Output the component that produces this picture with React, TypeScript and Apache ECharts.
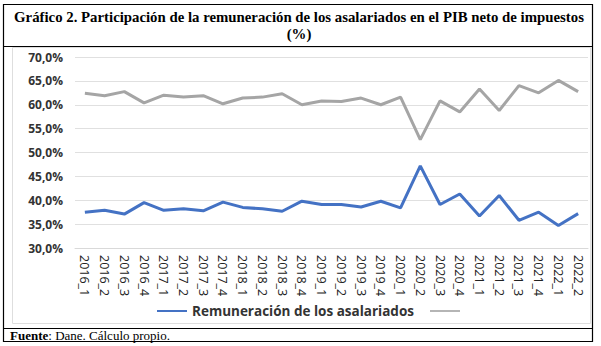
import React, { useEffect, useRef } from "react";
import * as echarts from "echarts";

const categories = [
  "2016_1", "2016_2", "2016_3", "2016_4",
  "2017_1", "2017_2", "2017_3", "2017_4",
  "2018_1", "2018_2", "2018_3", "2018_4",
  "2019_1", "2019_2", "2019_3", "2019_4",
  "2020_1", "2020_2", "2020_3", "2020_4",
  "2021_1", "2021_2", "2021_3", "2021_4",
  "2022_1", "2022_2",
];

const remuneracion = [
  37.5, 37.9, 37.1, 39.5, 37.9, 38.2, 37.8, 39.6, 38.5, 38.2, 37.7, 39.8,
  39.1, 39.1, 38.6, 39.8, 38.4, 47.2, 39.1, 41.3, 36.7, 41.0, 35.8, 37.5,
  34.7, 37.2,
];

const otros = [
  62.4, 61.9, 62.75, 60.4, 62.0, 61.6, 61.9, 60.2, 61.4, 61.6, 62.3, 60.0,
  60.8, 60.7, 61.4, 60.0, 61.6, 52.7, 60.8, 58.5, 63.3, 58.8, 64.0, 62.5,
  65.1, 62.75,
];

const seriesNames = ["Remuneración de los asalariados", " "];
const titleLine1 =
  "Gráfico 2. Participación de la remuneración de los asalariados en el PIB neto de impuestos";
const titleLine2 = "(%)";

export default function App() {
  const ref = useRef<HTMLDivElement>(null);

  useEffect(() => {
    if (!ref.current) return;
    const chart = echarts.init(ref.current, null, { renderer: "svg" });
    const sans = "'Open Sans', 'Noto Sans', sans-serif";
    const serif = "'Liberation Serif', 'DejaVu Serif', serif";
    chart.setOption({
      animation: false,
      backgroundColor: "#ffffff",
      grid: { left: 75, right: 13, top: 57, bottom: 98 },
      xAxis: {
        type: "category",
        data: categories,
        boundaryGap: true,
        axisLine: { show: true, lineStyle: { color: "#d9d9d9", width: 1 } },
        axisTick: { show: false },
        axisLabel: {
          rotate: -90,
          interval: 0,
          color: "#222",
          fontFamily: sans,
          fontSize: 12.5,
          margin: 7,
        },
      },
      yAxis: {
        type: "value",
        min: 30,
        max: 70,
        interval: 5,
        axisLine: { show: false },
        axisTick: { show: false },
        splitLine: { lineStyle: { color: "#e0e0e0", width: 1 } },
        axisLabel: {
          color: "#333",
          fontFamily: sans,
          fontSize: 12,
          fontWeight: "bold",
          margin: 12,
          formatter: (v: number) => v.toFixed(1).replace(".", ",") + "%",
        },
      },
      legend: {
        left: 152,
        top: 299,
        icon: "rect",
        itemWidth: 30,
        itemHeight: 2,
        itemGap: 16,
        data: seriesNames,
        textStyle: {
          fontFamily: sans,
          fontSize: 13.5,
          fontWeight: "bold",
          color: "#333",
        },
      },
      series: [
        {
          name: seriesNames[0],
          type: "line",
          data: remuneracion,
          symbol: "none",
          lineStyle: { color: "#4472c4", width: 3 },
          itemStyle: { color: "#4472c4" },
        },
        {
          name: seriesNames[1],
          type: "line",
          data: otros,
          symbol: "none",
          lineStyle: { color: "#a5a5a5", width: 3 },
          itemStyle: { color: "#b5b5b5" },
        },
      ],
      graphic: [
        {
          type: "rect",
          shape: { x: 12.5, y: 47.5, width: 578, height: 276 },
          style: { fill: "none", stroke: "#dedede", lineWidth: 1 },
          silent: true,
        },
        {
          type: "rect",
          shape: { x: 3.5, y: 4.5, width: 589, height: 337 },
          style: { fill: "none", stroke: "#000", lineWidth: 1.2 },
          silent: true,
        },
        {
          type: "line",
          shape: { x1: 3.5, y1: 46.5, x2: 592.5, y2: 46.5 },
          style: { stroke: "#000", lineWidth: 1.2 },
          silent: true,
        },
        {
          type: "line",
          shape: { x1: 3.5, y1: 328.5, x2: 592.5, y2: 328.5 },
          style: { stroke: "#000", lineWidth: 1.2 },
          silent: true,
        },
        {
          type: "text",
          x: 299,
          y: 17,
          style: {
            text: titleLine1,
            fontFamily: serif,
            fontSize: 14.8,
            fontWeight: "bold",
            fill: "#000",
            align: "center",
            verticalAlign: "middle",
          },
        },
        {
          type: "text",
          x: 299,
          y: 34,
          style: {
            text: titleLine2,
            fontFamily: serif,
            fontSize: 14.8,
            fontWeight: "bold",
            fill: "#000",
            align: "center",
            verticalAlign: "middle",
          },
        },
        {
          type: "text",
          x: 10,
          y: 335,
          style: {
            text: "{b|Fuente}{n|: Dane. Cálculo propio.}",
            verticalAlign: "middle",
            rich: {
              b: { fontFamily: serif, fontSize: 13, fontWeight: "bold", fill: "#000" },
              n: { fontFamily: serif, fontSize: 13, fill: "#000" },
            },
          },
        },
      ],
    });
    return () => chart.dispose();
  }, []);

  return (
    <div
      ref={ref}
      style={{ position: "fixed", left: 0, top: 0, width: 601, height: 346, background: "#fff" }}
    />
  );
}
